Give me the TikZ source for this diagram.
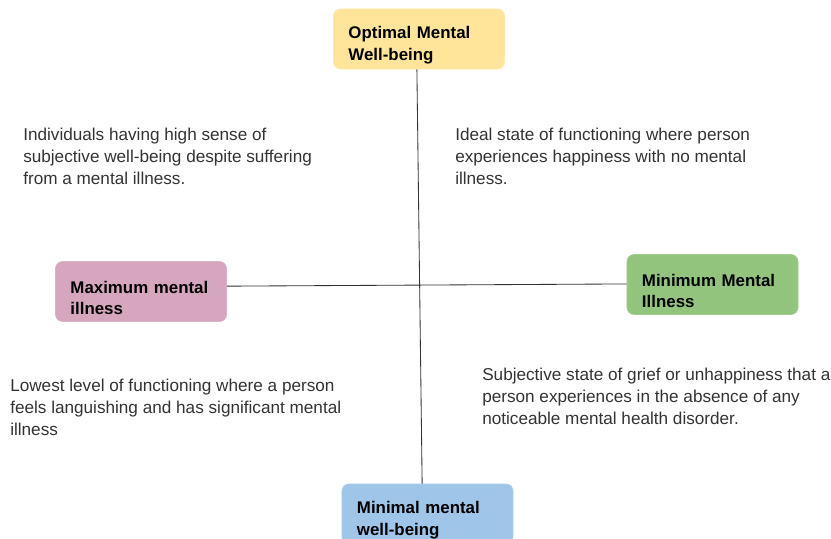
\documentclass[tikz,border=0pt]{standalone}
\usepackage{fontspec}
\setmainfont{Liberation Sans}
\definecolor{boxyellow}{HTML}{FFE599}
\definecolor{boxpink}{HTML}{D5A6BD}
\definecolor{boxgreen}{HTML}{93C47D}
\definecolor{boxblue}{HTML}{9FC5E8}
\definecolor{bodygray}{HTML}{333333}
\begin{document}
\begin{tikzpicture}[x=0.025cm, y=-0.025cm,
    every node/.style={inner sep=0pt},
    quad/.style={rounded corners=5pt, draw=#1!85!white, fill=#1, minimum width=4.275cm,
        minimum height=1.5cm, text width=3.525cm, inner xsep=0.375cm, align=left,
        font=\fontsize{12pt}{15pt}\selectfont\bfseries,
        execute at begin node={\rule{0pt}{17.5pt}}},
    note/.style={anchor=north west, align=left, text=bodygray,
        font=\fontsize{12.2pt}{15.4pt}\selectfont}]
    \useasboundingbox (0,0) rectangle (831,539);

    % Quadrant boxes
    \node[quad=boxyellow] (optimal) at (419,39) {Optimal Mental\\Well-being};
    \node[quad=boxpink] (maxill) at (141,291.5) {Maximum mental\\illness};
    \node[quad=boxgreen] (minill) at (712.5,284.5) {Minimum Mental\\Illness};
    \node[quad=boxblue] (minwell) at (427.5,514) {Minimal mental\\well-being};

    % Axes
    \draw[bodygray, line width=0.6pt] ([xshift=-1.5pt]optimal.south) -- ([xshift=-3.8pt]minwell.north);
    \draw[bodygray, line width=0.6pt] ([yshift=3.8pt]maxill.east) -- ([yshift=0.4pt]minill.west);

    % Quadrant descriptions
    \node[note] (topleft) at (23,128) {Individuals having high sense of\\subjective well-being despite suffering\\from a mental illness.};
    \node[note] (topright) at (455,128) {Ideal state of functioning where person\\experiences happiness with no mental\\illness.};
    \node[note] (bottomleft) at (10,379) {Lowest level of functioning where a person\\feels languishing and has significant mental\\illness};
    \node[note] (bottomright) at (482,368) {Subjective state of grief or unhappiness that a\\person experiences in the absence of any\\noticeable mental health disorder.};
\end{tikzpicture}
\end{document}
